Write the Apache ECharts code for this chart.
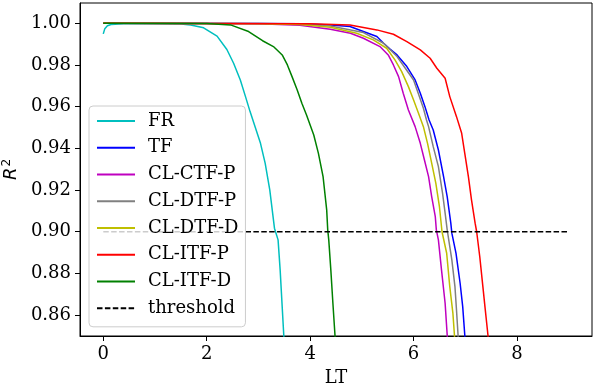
<!DOCTYPE html>
<html lang="en">
<head>
    <meta charset="UTF-8"/>
    <script src="https://cdn.jsdelivr.net/npm/echarts@6/dist/echarts.min.js"></script>
    <title>R2 vs LT</title>
    <style>
        html, body { margin: 0; padding: 0; background: #fff; }
    </style>
</head>
<body>
<div id="main" style="width: 598px;height:389px;"></div>
<script type="text/javascript">
    // values, [LT, R2]
    var names = ['FR', 'TF', 'CL-CTF-P', 'CL-DTF-P', 'CL-DTF-D', 'CL-ITF-P', 'CL-ITF-D', 'threshold'];
    var colors = ['#00bfbf', '#0000ff', '#bf00bf', '#808080', '#bfbf00', '#ff0000', '#008000', '#000000'];
    var xTicks = [0, 2, 4, 6, 8];
    var yTicks = [0.86, 0.88, 0.90, 0.92, 0.94, 0.96, 0.98, 1.00];

    var FR = [[0, 0.9949], [0.03, 0.9974], [0.08, 0.9988], [0.15, 0.9994], [0.4, 0.9997], [1.0, 0.9998],
        [1.5, 0.9996], [1.69, 0.9992], [1.94, 0.9978], [2.20, 0.9938], [2.39, 0.9874], [2.52, 0.9808],
        [2.65, 0.9728], [2.75, 0.9648], [2.84, 0.9575], [2.94, 0.9500], [3.04, 0.9424], [3.13, 0.9329],
        [3.22, 0.9200], [3.31, 0.9017], [3.38, 0.8961], [3.42, 0.8817], [3.49, 0.8505], [3.52, 0.8400]];
    var TF = [[0, 1.0], [3.0, 0.9999], [3.8, 0.9997], [4.39, 0.9992], [4.77, 0.9984], [5.03, 0.9960],
        [5.29, 0.9936], [5.42, 0.9904], [5.55, 0.9875], [5.68, 0.9848], [5.87, 0.9792], [6.03, 0.9728],
        [6.13, 0.9664], [6.22, 0.9600], [6.30, 0.9536], [6.38, 0.9488], [6.48, 0.9392], [6.58, 0.9264],
        [6.65, 0.9168], [6.72, 0.9041], [6.74, 0.8993], [6.82, 0.8897], [6.90, 0.8753], [6.95, 0.8641],
        [6.99, 0.8505], [7.01, 0.8400]];
    var CTFP = [[0, 1.0], [3.0, 0.9998], [3.8, 0.9990], [4.39, 0.9971], [4.78, 0.9952], [5.03, 0.9928],
        [5.35, 0.9888], [5.51, 0.9848], [5.61, 0.9800], [5.71, 0.9744], [5.80, 0.9664], [5.90, 0.9584],
        [6.03, 0.9504], [6.13, 0.9424], [6.21, 0.9344], [6.29, 0.9264], [6.35, 0.9168], [6.42, 0.9072],
        [6.44, 0.9009], [6.48, 0.8961], [6.54, 0.8817], [6.61, 0.8657], [6.65, 0.8505], [6.67, 0.8400]];
    var DTFP = [[0, 1.0], [3.0, 0.9999], [3.8, 0.9996], [4.39, 0.9987], [5.03, 0.9955], [5.42, 0.9904],
        [5.68, 0.9840], [5.84, 0.9784], [6.00, 0.9728], [6.09, 0.9664], [6.19, 0.9592], [6.25, 0.9536],
        [6.29, 0.9504], [6.38, 0.9408], [6.48, 0.9312], [6.56, 0.9185], [6.61, 0.9089], [6.65, 0.9009],
        [6.74, 0.8865], [6.80, 0.8737], [6.83, 0.8625], [6.86, 0.8505], [6.88, 0.8400]];
    var DTFD = [[0, 1.0], [3.0, 0.9998], [3.8, 0.9994], [4.39, 0.9981], [4.90, 0.9952], [5.22, 0.9920],
        [5.48, 0.9880], [5.64, 0.9824], [5.77, 0.9768], [5.90, 0.9696], [6.00, 0.9632], [6.09, 0.9572],
        [6.19, 0.9504], [6.27, 0.9424], [6.35, 0.9329], [6.43, 0.9233], [6.50, 0.9120], [6.55, 0.9000],
        [6.64, 0.8897], [6.70, 0.8737], [6.76, 0.8610], [6.79, 0.8505], [6.81, 0.8400]];
    var ITFP = [[0, 1.0], [4.0, 0.9998], [4.77, 0.9992], [5.29, 0.9968], [5.61, 0.9947], [5.87, 0.9912],
        [6.13, 0.9872], [6.32, 0.9832], [6.45, 0.9784], [6.61, 0.9736], [6.70, 0.9648], [6.83, 0.9552],
        [6.93, 0.9472], [6.99, 0.9376], [7.06, 0.9264], [7.12, 0.9153], [7.19, 0.9041], [7.22, 0.9000],
        [7.28, 0.8880], [7.34, 0.8737], [7.38, 0.8641], [7.44, 0.8500], [7.47, 0.8400]];
    var ITFD = [[0, 1.0], [2.0, 0.9999], [2.46, 0.9992], [2.81, 0.9960], [3.08, 0.9916], [3.29, 0.9888],
        [3.46, 0.9848], [3.56, 0.9800], [3.65, 0.9744], [3.75, 0.9680], [3.84, 0.9616], [3.93, 0.9560],
        [4.07, 0.9464], [4.16, 0.9376], [4.25, 0.9264], [4.32, 0.9105], [4.34, 0.9009], [4.36, 0.8961],
        [4.40, 0.8817], [4.44, 0.8657], [4.48, 0.8505], [4.51, 0.8400]];
    var threshold = [[0, 0.90], [9, 0.90]];

    var allData = [FR, TF, CTFP, DTFP, DTFD, ITFP, ITFD, threshold];

    var myChart = echarts.init(document.getElementById('main'));
    var font = 'DejaVu Serif';

    var series = [];
    for (var i = 0; i < names.length; i++) {
        series.push({
            name: names[i],
            type: 'line',
            data: allData[i],
            symbol: 'none',
            showSymbol: false,
            clip: true,
            sampling: null,
            lineStyle: {
                color: colors[i],
                width: 1.5,
                type: names[i] === 'threshold' ? [5.5, 2.4] : 'solid'
            },
            itemStyle: {color: colors[i]}
        });
    }

    var option = {
        animation: false,
        grid: {
            left: 80, right: 6, top: 3, bottom: 53,
            containLabel: false,
            outerBoundsMode: 'none',
            show: true, borderColor: '#000', borderWidth: 1, backgroundColor: 'transparent'
        },
        legend: {
            orient: 'vertical',
            left: 89, top: 106,
            data: names,
            itemWidth: 38,
            itemHeight: 18,
            itemGap: 8.76,
            padding: [6, 7, 9.5, 7],
            backgroundColor: 'rgba(255,255,255,0.8)',
            borderColor: '#cccccc',
            borderWidth: 1,
            borderRadius: 4,
            itemStyle: {opacity: 0},
            textStyle: {fontFamily: font, fontSize: 18, color: '#000', lineHeight: 18, padding: [0, 0, 0, 8]}
        },
        xAxis: {
            type: 'value',
            min: -0.45, max: 9.45,
            name: 'LT',
            nameLocation: 'middle',
            nameGap: 33,
            nameTextStyle: {fontFamily: font, fontSize: 18, color: '#000'},
            splitLine: {show: false},
            axisLine: {show: true, onZero: false, lineStyle: {color: '#000', width: 1}},
            axisTick: {show: true, length: 5, customValues: xTicks, lineStyle: {color: '#000'}},
            axisLabel: {customValues: xTicks, margin: 9, fontFamily: font, fontSize: 18, color: '#000'}
        },
        yAxis: {
            type: 'value',
            min: 0.85, max: 1.0097,
            name: '{r|R}{s|2}',
            nameLocation: 'middle',
            nameGap: 56,
            nameRotate: 90,
            nameTextStyle: {
                color: '#000',
                rich: {
                    r: {fontFamily: 'DejaVu Sans', fontStyle: 'italic', fontSize: 18, color: '#000'},
                    s: {fontFamily: 'DejaVu Sans', fontSize: 12, color: '#000', verticalAlign: 'top', padding: [0, 0, 8, 1]}
                }
            },
            splitLine: {show: false},
            axisLine: {show: true, onZero: false, lineStyle: {color: '#000', width: 1}},
            axisTick: {show: true, length: 5, customValues: yTicks, lineStyle: {color: '#000'}},
            axisLabel: {
                customValues: yTicks, margin: 9, fontFamily: font, fontSize: 18, color: '#000',
                formatter: function (v) { return v.toFixed(2); }
            }
        },
        series: series
    };

    myChart.setOption(option);
</script>
</body>
</html>
